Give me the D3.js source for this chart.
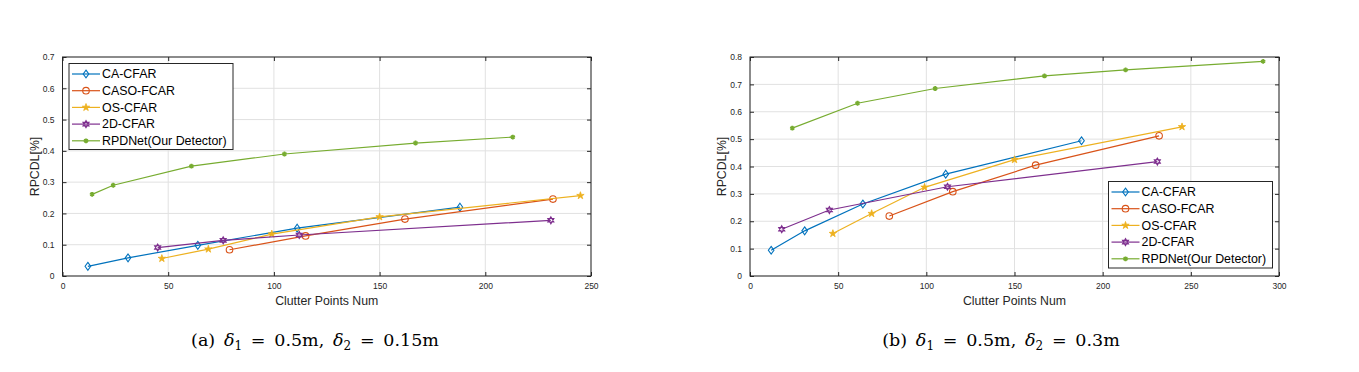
<!DOCTYPE html>
<html>
<head>
<meta charset="utf-8">
<script src="https://cdn.jsdelivr.net/npm/d3@7"></script>
<style>
  body { margin: 0; background: #fff; }
  svg { display: block; }
  .tick text { font-family: "Liberation Sans", Arial, sans-serif; }
</style>
</head>
<body>
<svg id="chart" width="1359" height="372"></svg>
<script>
// series names and colours (MATLAB default order)
const seriesNames = ['CA-CFAR', 'CASO-FCAR', 'OS-CFAR', '2D-CFAR', 'RPDNet(Our Detector)'];
const seriesColors = ['#0072BD', '#D95319', '#EDB120', '#7E2F8E', '#77AC30'];
const seriesMarkers = ['diamond', 'circle', 'star', 'hexagram', 'asterisk'];

// (a) delta2 = 0.15m
const caX_a = [12, 31, 64, 111, 188];
const caY_a = [0.031, 0.058, 0.098, 0.153, 0.220];
const casoX_a = [79, 115, 162, 232];
const casoY_a = [0.084, 0.128, 0.182, 0.246];
const osX_a = [47, 69, 99, 150, 245];
const osY_a = [0.056, 0.086, 0.134, 0.189, 0.257];
const d2X_a = [45, 76, 112, 231];
const d2Y_a = [0.091, 0.114, 0.131, 0.178];
const rpdX_a = [14, 24, 61, 105, 167, 213];
const rpdY_a = [0.261, 0.290, 0.351, 0.390, 0.425, 0.444];

// (b) delta2 = 0.3m
const caX_b = [12, 31, 64, 111, 188];
const caY_b = [0.094, 0.165, 0.263, 0.372, 0.494];
const casoX_b = [79, 115, 162, 232];
const casoY_b = [0.219, 0.308, 0.405, 0.512];
const osX_b = [47, 69, 99, 150, 245];
const osY_b = [0.155, 0.228, 0.324, 0.425, 0.545];
const d2X_b = [18, 45, 112, 231];
const d2Y_b = [0.171, 0.241, 0.326, 0.418];
const rpdX_b = [24, 61, 105, 167, 213, 291];
const rpdY_b = [0.540, 0.631, 0.685, 0.731, 0.753, 0.784];

const xTicks_a = [0, 50, 100, 150, 200, 250];
const yTicks_a = [0, 0.1, 0.2, 0.3, 0.4, 0.5, 0.6, 0.7];
const xTicks_b = [0, 50, 100, 150, 200, 250, 300];
const yTicks_b = [0, 0.1, 0.2, 0.3, 0.4, 0.5, 0.6, 0.7, 0.8];

const xLabel = 'Clutter Points Num';
const yLabel = 'RPCDL[%]';

const svg = d3.select('#chart');
const font = '"Liberation Sans", Arial, Helvetica, sans-serif';
const axisColor = '#262626';

function zip(xs, ys) {
  return xs.map((x, i) => ({ x: x, y: ys[i] }));
}

function markerPath(type) {
  switch (type) {
    case 'diamond':
      return 'M0,-3.9L2.8,0L0,3.9L-2.8,0Z';
    case 'circle':
      return d3.symbol(d3.symbolCircle, 34)();
    case 'star':
      return d3.symbol(d3.symbolStar, 17)();
    case 'hexagram': {
      const r = 3.5;
      const tri = (rot) => d3.range(3).map((k) => {
        const a = rot + k * 2 * Math.PI / 3;
        return [r * Math.sin(a), -r * Math.cos(a)];
      });
      const p = (pts) => 'M' + pts.map((q) => q.join(',')).join('L') + 'Z';
      return p(tri(0)) + p(tri(Math.PI));
    }
    case 'asterisk':
      return d3.symbol(d3.symbolAsterisk, 16)();
  }
}

function drawMarker(g, type, color, x, y) {
  const filled = type === 'star';
  g.append('path')
    .attr('d', markerPath(type))
    .attr('transform', `translate(${x},${y})`)
    .attr('fill', filled ? color : 'none')
    .attr('stroke', color)
    .attr('stroke-width', type === 'asterisk' ? 1.8 : (filled ? 0.8 : 1.1));
}

function drawChart(cfg) {
  const { left, right, top, bottom } = cfg.box;
  const x = d3.scaleLinear().domain(cfg.xDomain).range([left, right]);
  const y = d3.scaleLinear().domain(cfg.yDomain).range([bottom, top]);
  const g = svg.append('g');

  // gridlines
  const grid = g.append('g').attr('stroke', '#e1e1e1').attr('stroke-width', 1);
  cfg.xTicks.forEach((t) => {
    grid.append('line').attr('x1', x(t)).attr('x2', x(t)).attr('y1', top).attr('y2', bottom);
  });
  cfg.yTicks.forEach((t) => {
    grid.append('line').attr('x1', left).attr('x2', right).attr('y1', y(t)).attr('y2', y(t));
  });

  // axes with inward ticks on all four sides
  const tickLen = 4;
  const styleAxis = (sel) => {
    sel.selectAll('.domain').remove();
    sel.selectAll('.tick line').attr('stroke', axisColor);
    sel.selectAll('.tick text').attr('fill', axisColor).style('font-size', '8.5px');
  };
  g.append('g').attr('transform', `translate(0,${bottom})`)
    .call(d3.axisBottom(x).tickValues(cfg.xTicks).tickFormat(d3.format('d')).tickSize(-tickLen).tickPadding(7))
    .call(styleAxis);
  g.append('g').attr('transform', `translate(0,${top})`)
    .call(d3.axisTop(x).tickValues(cfg.xTicks).tickFormat('').tickSize(-tickLen))
    .call(styleAxis);
  g.append('g').attr('transform', `translate(${left},0)`)
    .call(d3.axisLeft(y).tickValues(cfg.yTicks).tickFormat((d) => d === 0 ? '0' : d3.format('.1f')(d)).tickSize(-tickLen).tickPadding(8))
    .call(styleAxis);
  g.append('g').attr('transform', `translate(${right},0)`)
    .call(d3.axisRight(y).tickValues(cfg.yTicks).tickFormat('').tickSize(-tickLen))
    .call(styleAxis);

  g.append('rect')
    .attr('x', left).attr('y', top)
    .attr('width', right - left).attr('height', bottom - top)
    .attr('fill', 'none').attr('stroke', axisColor).attr('stroke-width', 1);

  // series
  const line = d3.line().x((d) => x(d.x)).y((d) => y(d.y));
  cfg.series.forEach((s, i) => {
    const color = seriesColors[i];
    g.append('path')
      .datum(s)
      .attr('d', line)
      .attr('fill', 'none')
      .attr('stroke', color)
      .attr('stroke-width', 1.2);
    s.forEach((d) => drawMarker(g, seriesMarkers[i], color, x(d.x), y(d.y)));
  });

  // axis labels
  g.append('text')
    .attr('x', (left + right) / 2).attr('y', bottom + 29)
    .attr('text-anchor', 'middle')
    .attr('font-family', font).attr('font-size', 12.3).attr('fill', axisColor)
    .text(xLabel);
  g.append('text')
    .attr('transform', `translate(${left - 24},${(top + bottom) / 2}) rotate(-90)`)
    .attr('text-anchor', 'middle')
    .attr('font-family', font).attr('font-size', 12.3).attr('fill', axisColor)
    .text(yLabel);

  // legend
  const lg = cfg.legend;
  const leg = g.append('g');
  leg.append('rect')
    .attr('x', lg.x).attr('y', lg.y).attr('width', lg.w).attr('height', lg.h)
    .attr('fill', '#fff').attr('stroke', axisColor).attr('stroke-width', 1);
  seriesNames.forEach((name, i) => {
    const cy = lg.y + 10.5 + i * 16.7;
    const color = seriesColors[i];
    leg.append('line')
      .attr('x1', lg.x + 3).attr('x2', lg.x + 31)
      .attr('y1', cy).attr('y2', cy)
      .attr('stroke', color).attr('stroke-width', 1.2);
    drawMarker(leg, seriesMarkers[i], color, lg.x + 17, cy);
    leg.append('text')
      .attr('x', lg.x + 33).attr('y', cy + 4.3)
      .attr('font-family', font).attr('font-size', 12.4).attr('fill', '#000')
      .text(name);
  });

  // caption
  const sp = '\u2002';
  const cap = svg.append('text')
    .attr('x', cfg.caption.x).attr('y', 346)
    .attr('text-anchor', 'middle')
    .attr('font-family', '"DejaVu Serif", "Liberation Serif", serif')
    .attr('font-size', 17.5)
    .attr('fill', '#000');
  cap.append('tspan').text(cfg.caption.tag + sp);
  cap.append('tspan').attr('font-style', 'italic').text('δ');
  cap.append('tspan').attr('font-size', 12).attr('dy', 3.5).text('1');
  cap.append('tspan').attr('dy', -3.5).text(sp + '=' + sp + '0.5m,' + sp);
  cap.append('tspan').attr('font-style', 'italic').text('δ');
  cap.append('tspan').attr('font-size', 12).attr('dy', 3.5).text('2');
  cap.append('tspan').attr('dy', -3.5).text(sp + '=' + sp + cfg.caption.d2);
}

drawChart({
  box: { left: 62.5, right: 591, top: 57, bottom: 276 },
  xDomain: [0, 250], yDomain: [0, 0.7],
  xTicks: xTicks_a, yTicks: yTicks_a,
  series: [zip(caX_a, caY_a), zip(casoX_a, casoY_a), zip(osX_a, osY_a), zip(d2X_a, d2Y_a), zip(rpdX_a, rpdY_a)],
  legend: { x: 69, y: 63.5, w: 164, h: 86 },
  caption: { x: 315, tag: '(a)', d2: '0.15m' }
});

drawChart({
  box: { left: 750, right: 1279, top: 57, bottom: 276 },
  xDomain: [0, 300], yDomain: [0, 0.8],
  xTicks: xTicks_b, yTicks: yTicks_b,
  series: [zip(caX_b, caY_b), zip(casoX_b, casoY_b), zip(osX_b, osY_b), zip(d2X_b, d2Y_b), zip(rpdX_b, rpdY_b)],
  legend: { x: 1108.5, y: 181.5, w: 164, h: 86.5 },
  caption: { x: 1001, tag: '(b)', d2: '0.3m' }
});
</script>
</body>
</html>
